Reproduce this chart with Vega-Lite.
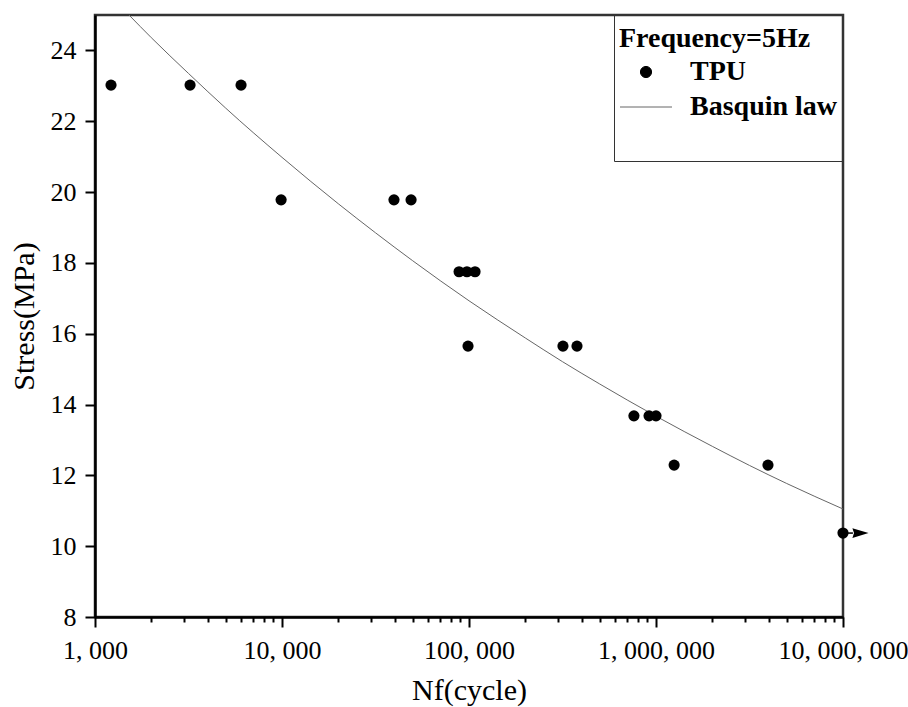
{
  "$schema": "https://vega.github.io/schema/vega-lite/v6.json",
  "width": 748,
  "height": 602,
  "autosize": {"type": "none"},
  "padding": {"left": 95, "top": 15, "right": 65, "bottom": 90},
  "background": "white",
  "config": {
    "view": {"stroke": "#333", "strokeWidth": 2.5},
    "font": "Liberation Serif",
    "axis": {
      "grid": false,
      "domainColor": "black",
      "domainWidth": 2.5,
      "tickColor": "black",
      "tickWidth": 2,
      "labelFont": "Liberation Serif",
      "labelFontSize": 26,
      "labelColor": "black",
      "titleFont": "Liberation Serif",
      "titleFontSize": 30,
      "titleFontWeight": "normal",
      "titleColor": "black"
    }
  },
  "datasets": {
    "tpu": [
      {"N": 1218, "S": 23.02, "series": "TPU"},
      {"N": 3224, "S": 23.02, "series": "TPU"},
      {"N": 6040, "S": 23.02, "series": "TPU"},
      {"N": 9890, "S": 19.78, "series": "TPU"},
      {"N": 39700, "S": 19.78, "series": "TPU"},
      {"N": 49000, "S": 19.78, "series": "TPU"},
      {"N": 88500, "S": 17.75, "series": "TPU"},
      {"N": 97500, "S": 17.75, "series": "TPU"},
      {"N": 107700, "S": 17.75, "series": "TPU"},
      {"N": 98800, "S": 15.65, "series": "TPU"},
      {"N": 318000, "S": 15.65, "series": "TPU"},
      {"N": 378000, "S": 15.65, "series": "TPU"},
      {"N": 762000, "S": 13.68, "series": "TPU"},
      {"N": 918000, "S": 13.68, "series": "TPU"},
      {"N": 1000000, "S": 13.68, "series": "TPU"},
      {"N": 1250000, "S": 12.29, "series": "TPU"},
      {"N": 3970000, "S": 12.29, "series": "TPU"},
      {"N": 10000000, "S": 10.37, "series": "TPU"}
    ],
    "basquin": [
      {"N": 1520, "S": 25.0, "series": "Basquin law"},
      {"N": 2000, "S": 24.36, "series": "Basquin law"},
      {"N": 3162, "S": 23.35, "series": "Basquin law"},
      {"N": 5000, "S": 22.37, "series": "Basquin law"},
      {"N": 10000, "S": 20.98, "series": "Basquin law"},
      {"N": 20000, "S": 19.67, "series": "Basquin law"},
      {"N": 31620, "S": 18.85, "series": "Basquin law"},
      {"N": 50000, "S": 18.06, "series": "Basquin law"},
      {"N": 100000, "S": 16.93, "series": "Basquin law"},
      {"N": 200000, "S": 15.88, "series": "Basquin law"},
      {"N": 316200, "S": 15.21, "series": "Basquin law"},
      {"N": 500000, "S": 14.58, "series": "Basquin law"},
      {"N": 1000000, "S": 13.67, "series": "Basquin law"},
      {"N": 2000000, "S": 12.82, "series": "Basquin law"},
      {"N": 3162000, "S": 12.28, "series": "Basquin law"},
      {"N": 5000000, "S": 11.77, "series": "Basquin law"},
      {"N": 10000000, "S": 11.05, "series": "Basquin law"}
    ],
    "runout": [
      {"N": 10000000, "N2": 11300000, "Nhead": 12400000, "S": 10.37}
    ]
  },
  "layer": [
    {
      "data": {"name": "basquin"},
      "mark": {"type": "line", "strokeWidth": 1, "clip": true, "interpolate": "monotone"},
      "encoding": {
        "x": {
          "field": "N", "type": "quantitative",
          "scale": {"type": "log", "domain": [1000, 10000000], "nice": false},
          "axis": {
            "title": "Nf(cycle)",
            "values": [1000, 2000, 3000, 4000, 5000, 6000, 7000, 8000, 9000, 10000, 20000, 30000, 40000, 50000, 60000, 70000, 80000, 90000, 100000, 200000, 300000, 400000, 500000, 600000, 700000, 800000, 900000, 1000000, 2000000, 3000000, 4000000, 5000000, 6000000, 7000000, 8000000, 9000000, 10000000],
            "labelExpr": "datum.value == 1000 ? '1, 000' : datum.value == 10000 ? '10, 000' : datum.value == 100000 ? '100, 000' : datum.value == 1000000 ? '1, 000, 000' : datum.value == 10000000 ? '10, 000, 000' : ''",
            "tickSize": {"condition": {"test": "indexof([1000, 10000, 100000, 1000000, 10000000], datum.value) >= 0", "value": 10}, "value": 5},
            "labelPadding": 10,
            "labelFlush": false,
            "labelOverlap": false,
            "titlePadding": 12
          }
        },
        "y": {
          "field": "S", "type": "quantitative",
          "scale": {"domain": [8, 25], "nice": false, "zero": false},
          "axis": {
            "title": "Stress(MPa)",
            "values": [8, 9, 10, 11, 12, 13, 14, 15, 16, 17, 18, 19, 20, 21, 22, 23, 24],
            "labelExpr": "datum.value % 2 == 0 ? datum.label : ''",
            "tickSize": {"condition": {"test": "datum.value % 2 == 0", "value": 10}, "value": 5},
            "labelPadding": 9,
            "labelFlush": false,
            "labelOverlap": false,
            "titlePadding": 11
          }
        },
        "color": {
          "field": "series", "type": "nominal",
          "scale": {"domain": ["TPU", "Basquin law", "\u00a0"], "range": ["black", "#666666", "white"]},
          "legend": {
            "title": "Frequency=5Hz",
            "orient": "none",
            "legendX": 519,
            "legendY": 0,
            "padding": 5,
            "strokeColor": "#333",
            "titleFont": "Liberation Serif",
            "titleFontSize": 28,
            "titleFontWeight": "bold",
            "titleColor": "black",
            "titleLimit": 400,
            "titlePadding": 10,
            "labelFont": "Liberation Serif",
            "labelFontSize": 28,
            "labelFontWeight": "bold",
            "labelColor": "black",
            "labelLimit": 400,
            "symbolSize": 125,
            "symbolStrokeWidth": 1,
            "symbolOffset": 13,
            "labelOffset": 30,
            "rowPadding": 7,
            "encode": {
              "title": {"update": {"dy": {"value": 5}}},
              "symbols": {
                "update": {
                  "shape": {"signal": "datum.value === 'TPU' ? 'circle' : 'M-4.65,0L4.65,0'"},
                  "fill": {"signal": "datum.value === 'TPU' ? 'black' : 'transparent'"},
                  "stroke": {"signal": "datum.value === 'TPU' ? 'black' : '#666666'"},
                  "opacity": {"signal": "datum.value === 'TPU' || datum.value === 'Basquin law' ? 1 : 0"}
                }
              }
            }
          }
        }
      }
    },
    {
      "data": {"name": "tpu"},
      "mark": {"type": "point", "filled": true, "size": 125, "opacity": 1, "clip": false},
      "encoding": {
        "x": {"field": "N", "type": "quantitative"},
        "y": {"field": "S", "type": "quantitative"},
        "color": {"field": "series", "type": "nominal"}
      }
    },
    {
      "data": {"name": "runout"},
      "mark": {"type": "rule", "color": "black", "strokeWidth": 1.5, "clip": false},
      "encoding": {
        "x": {"field": "N", "type": "quantitative"},
        "x2": {"field": "N2"},
        "y": {"field": "S", "type": "quantitative"}
      }
    },
    {
      "data": {"name": "runout"},
      "mark": {"type": "point", "filled": true, "color": "black", "opacity": 1, "size": 260, "shape": "M-1,-0.6L1,0L-1,0.6L-0.8,0Z", "clip": false},
      "encoding": {
        "x": {"field": "Nhead", "type": "quantitative"},
        "y": {"field": "S", "type": "quantitative"}
      }
    }
  ]
}
